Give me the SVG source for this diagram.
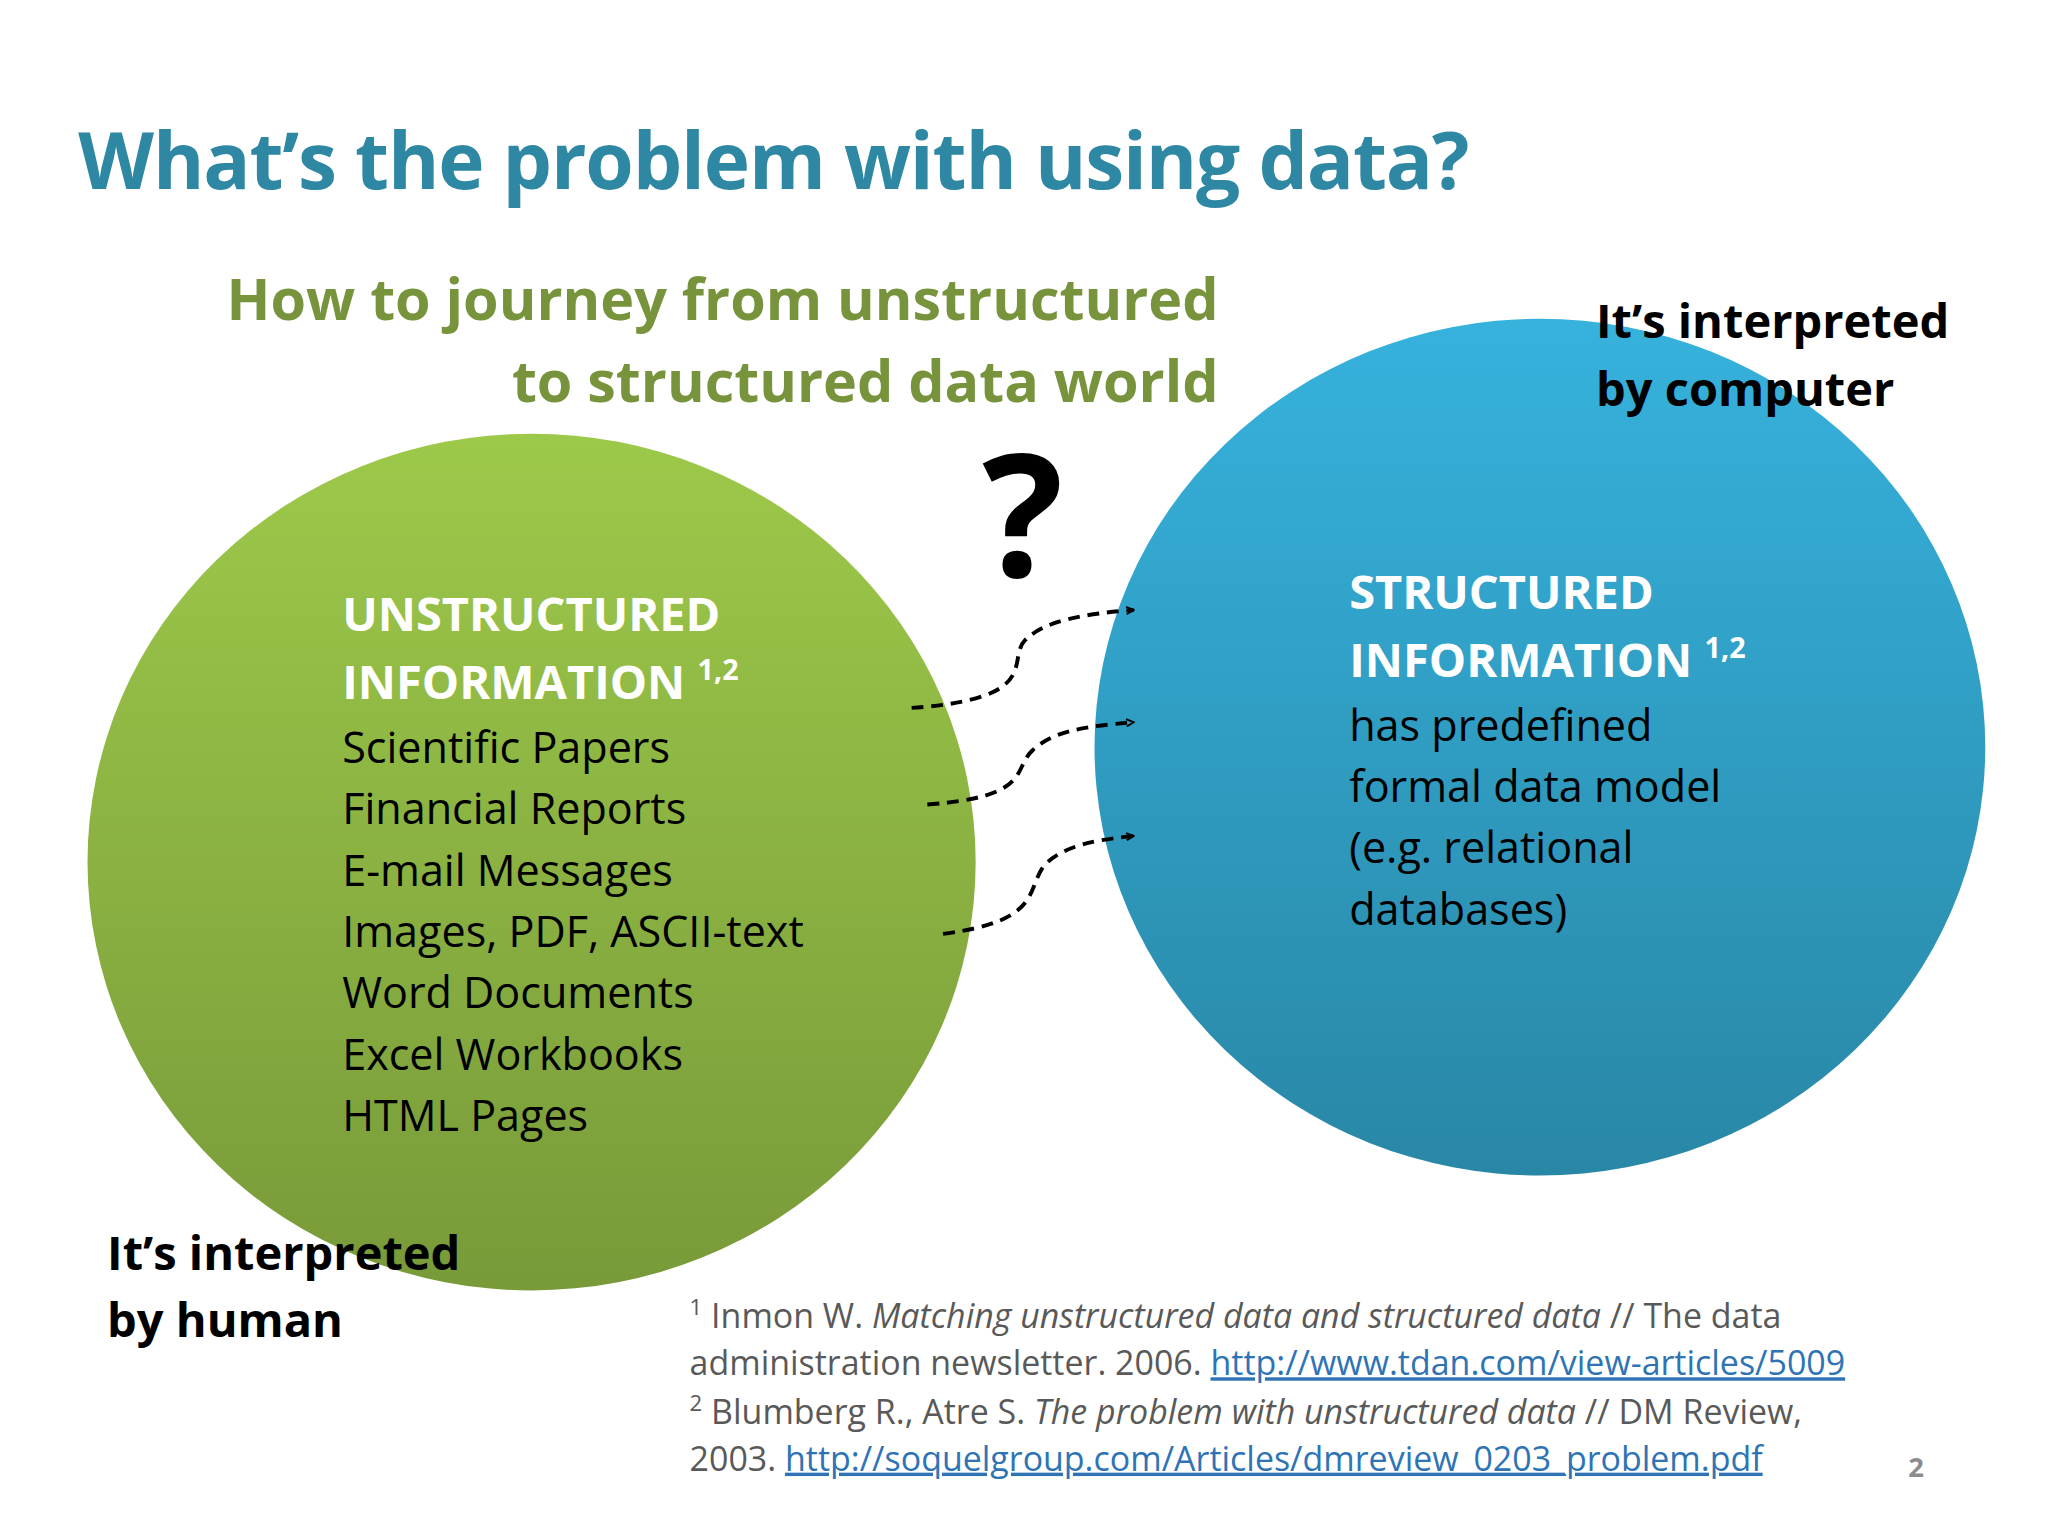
<svg xmlns="http://www.w3.org/2000/svg" width="2048" height="1536" viewBox="0 0 2048 1536">
<defs>
<linearGradient id="gg" x1="0" y1="0" x2="0" y2="1"><stop offset="0" stop-color="#9DC94A"/><stop offset="1" stop-color="#789A39"/></linearGradient>
<linearGradient id="bg" x1="0" y1="0" x2="0" y2="1"><stop offset="0" stop-color="#36B2DD"/><stop offset="1" stop-color="#2987A6"/></linearGradient>
<marker id="ar" viewBox="0 0 10 10" refX="9" refY="5" markerWidth="7" markerHeight="7" orient="auto" markerUnits="userSpaceOnUse"><path d="M1,1 L9,5 L1,9" fill="none" stroke="#000" stroke-width="2"/></marker>
<style>
text{font-family:"Open Sans","Noto Sans",sans-serif}
.b{font-weight:bold}
.w{fill:#fff;font-weight:bold;font-size:36px}
.k{fill:#000;font-size:33px}
.h{fill:#000;font-weight:bold;font-size:36px}
.f{fill:#595959;font-size:26px}
.l{fill:#2E74B5;text-decoration:underline}
.c{fill:none;stroke:#000;stroke-width:3;stroke-dasharray:9,6;marker-end:url(#ar)}
</style>
</defs>
<rect width="2048" height="1536" fill="#fff"/>
<g transform="scale(1.3061)">
<text x="60" y="145" class="b" font-size="60" fill="#2E87A3" textLength="1065">What’s the problem with using data?</text>
<g class="b" font-size="44" fill="#77933C" text-anchor="end">
<text x="933" y="245">How to journey from unstructured</text>
<text x="933" y="308">to structured data world</text>
</g>
<g id="unstructured">
<ellipse cx="407" cy="660" rx="340" ry="328" fill="url(#gg)"/>
<text x="262" y="483" class="w">UNSTRUCTURED</text>
<text x="262" y="535" class="w">INFORMATION <tspan font-size="22" dy="-14">1,2</tspan></text>
<text x="262" y="584" class="k">Scientific Papers</text>
<text x="262" y="631" class="k">Financial Reports</text>
<text x="262" y="678" class="k">E-mail Messages</text>
<text x="262" y="725" class="k">Images, PDF, ASCII-text</text>
<text x="262" y="772" class="k">Word Documents</text>
<text x="262" y="819" class="k">Excel Workbooks</text>
<text x="262" y="866" class="k">HTML Pages</text>
</g>
<g id="structured">
<ellipse cx="1179" cy="572" rx="341" ry="328" fill="url(#bg)"/>
<text x="1033" y="466" class="w">STRUCTURED</text>
<text x="1033" y="518" class="w">INFORMATION <tspan font-size="22" dy="-14">1,2</tspan></text>
<text x="1033" y="567" class="k">has predefined</text>
<text x="1033" y="614" class="k">formal data model</text>
<text x="1033" y="661" class="k">(e.g. relational</text>
<text x="1033" y="708" class="k">databases)</text>
</g>
<text x="1222" y="259" class="h">It’s interpreted</text>
<text x="1222" y="311" class="h">by computer</text>
<text x="82" y="972" class="h">It’s interpreted</text>
<text x="82" y="1024" class="h">by human</text>
<text x="783" y="442" text-anchor="middle" font-family="Liberation Sans,sans-serif" font-weight="bold" font-size="130" fill="#000">?</text>
<g id="connectors">
<path class="c" d="M698,542 C800,535 770,505 785,490 C800,475 830,470 868,467"/>
<path class="c" d="M710,616 C790,610 775,590 790,575 C805,560 830,556 868,553"/>
<path class="c" d="M722,715 C800,705 785,680 800,662 C815,647 840,643 868,640"/>
</g>
<g id="footnotes">
<text x="528" y="1017" class="f"><tspan font-size="17" dy="-10">1</tspan><tspan dy="10"> Inmon W. </tspan><tspan font-style="italic">Matching unstructured data and structured data</tspan> // The data</text>
<text x="528" y="1053" class="f">administration newsletter. 2006. <tspan class="l">http://www.tdan.com/view-articles/5009</tspan></text>
<text x="528" y="1090" class="f"><tspan font-size="17" dy="-10">2</tspan><tspan dy="10"> Blumberg R., Atre S. </tspan><tspan font-style="italic">The problem with unstructured data</tspan> // DM Review,</text>
<text x="528" y="1126" class="f">2003. <tspan class="l">http://soquelgroup.com/Articles/dmreview_0203_problem.pdf</tspan></text>
<text x="1467" y="1131" font-size="21" fill="#8C8C8C" class="b" text-anchor="middle">2</text>
</g>
</g>
</svg>
